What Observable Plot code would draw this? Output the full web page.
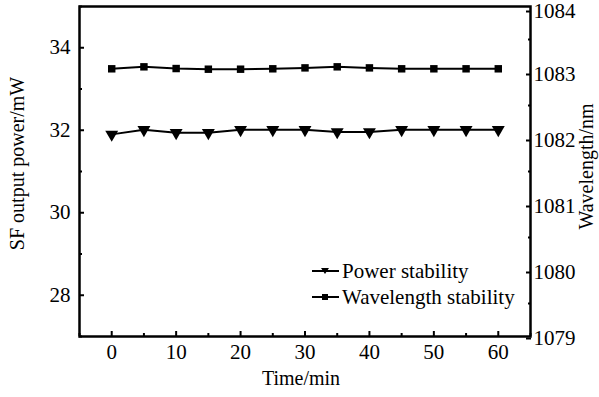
<!DOCTYPE html>
<html><head><meta charset="utf-8">
<script src="https://cdn.jsdelivr.net/npm/d3@7"></script>
<script src="https://cdn.jsdelivr.net/npm/@observablehq/plot@0.6"></script>
<style>
body{margin:0;background:#fff;}
#chart{position:relative;width:599px;height:397px;font-family:"Liberation Serif","Times New Roman",serif;}
.leg{position:absolute;left:311px;display:flex;align-items:center;font-size:21px;line-height:24px;color:#000;white-space:nowrap;}
.leg svg{margin-right:2px;}
</style>
</head><body><div id="chart"></div>
<script>
const time = [0, 5, 10, 15, 20, 25, 30, 35, 40, 45, 50, 55, 60];
const power = [31.9, 32.01, 31.94, 31.94, 32.01, 32.01, 32.01, 31.96, 31.96, 32.01, 32.01, 32.01, 32.01];
const wavelength = [1083.056, 1083.086, 1083.06, 1083.05, 1083.05, 1083.056, 1083.07, 1083.086, 1083.07, 1083.056, 1083.056, 1083.056, 1083.056];
const xTicks = [0, 10, 20, 30, 40, 50, 60];
const xMinor = [-5, 5, 15, 25, 35, 45, 55, 65];
const powerTicks = [28, 30, 32, 34];
const powerMinor = [27, 29, 31, 33, 35];
const wlTicks = [1079, 1080, 1081, 1082, 1083];
const wlTopTick = [1084];
const wlMinor = [1079.5, 1080.5, 1081.5, 1082.5, 1083.5];
const powerDomain = [27, 35];
const wlDomain = [1079, 1084];

// map wavelength into the power (left) scale
const toY = w => powerDomain[0] + (w - wlDomain[0]) * (powerDomain[1] - powerDomain[0]) / (wlDomain[1] - wlDomain[0]);
const fromY = y => wlDomain[0] + (y - powerDomain[0]) * (wlDomain[1] - wlDomain[0]) / (powerDomain[1] - powerDomain[0]);
const wlFormat = d => String(Math.round(fromY(d)));

const pData = time.map((t, i) => ({t, v: power[i]}));
const wData = time.map((t, i) => ({t, v: toY(wavelength[i])}));

const FS = 21;
const chart = Plot.plot({
  width: 599, height: 397,
  marginLeft: 79, marginRight: 69, marginTop: 6, marginBottom: 61,
  style: {fontFamily: '"Liberation Serif","Times New Roman",serif', fontSize: FS + "px", color: "#000", background: "#fff"},
  x: {domain: [-5, 65]},
  y: {domain: powerDomain},
  marks: [
    Plot.axisX(xTicks, {tickSize: -5, tickPadding: 13, strokeWidth: 2, label: null, fontSize: FS}),
    Plot.axisX(xMinor, {tickSize: -3, tickFormat: () => "", strokeWidth: 2, label: null}),
    Plot.axisY(powerTicks, {anchor: "left", tickSize: -5, tickPadding: 14, strokeWidth: 2, label: null, fontSize: FS}),
    Plot.axisY(powerMinor, {anchor: "left", tickSize: -3, tickFormat: () => "", strokeWidth: 2, label: null}),
    Plot.axisY(wlTicks.map(toY), {anchor: "right", tickSize: -5, tickPadding: 8, dy: 2, strokeWidth: 2, label: null, fontSize: FS, tickFormat: wlFormat}),
    Plot.axisY(wlTopTick.map(toY), {anchor: "right", tickSize: -5, tickPadding: 8, dy: 5, strokeWidth: 2, label: null, fontSize: FS, tickFormat: wlFormat}),
    Plot.axisY(wlMinor.map(toY), {anchor: "right", tickSize: -3, tickFormat: () => "", strokeWidth: 2, label: null}),
    Plot.frame({stroke: "#000", strokeWidth: 2.5}),
    Plot.text(["SF output power/mW"], {frameAnchor: "left", textAnchor: "middle", dx: -62, dy: -8, rotate: -90, fontSize: 20}),
    Plot.text(["Wavelength/nm"], {frameAnchor: "right", textAnchor: "middle", dx: 56, dy: -5, rotate: -90, fontSize: 20}),
    Plot.text(["Time/min"], {frameAnchor: "bottom", dy: 48, dx: -4, fontSize: 20}),
    Plot.line(pData, {x: "t", y: "v", stroke: "#000", strokeWidth: 2}),
    Plot.dot(pData, {x: "t", y: "v", symbol: "triangle", rotate: 180, r: 4.8, fill: "#000", stroke: "none"}),
    Plot.line(wData, {x: "t", y: "v", stroke: "#000", strokeWidth: 2}),
    Plot.dot(wData, {x: "t", y: "v", symbol: "square", r: 4.2, fill: "#000", stroke: "none"})
  ]
});
const root = document.getElementById("chart");
root.appendChild(chart);

const legendItems = [
  {label: "Power stability", symbol: "tri", top: 259},
  {label: "Wavelength stability", symbol: "sq", top: 285}
];
for (const it of legendItems) {
  const div = document.createElement("div");
  div.className = "leg";
  div.style.top = it.top + "px";
  const marker = it.symbol === "tri"
    ? '<path d="M10,7 L18,7 L14,13 Z" fill="#000"/>'
    : '<rect x="11" y="7" width="6" height="6" fill="#000"/>';
  div.innerHTML = '<svg width="29" height="20"><line x1="1" y1="10" x2="28" y2="10" stroke="#000" stroke-width="2"/>' + marker + '</svg><span>' + it.label + '</span>';
  root.appendChild(div);
}
</script>
</body></html>
